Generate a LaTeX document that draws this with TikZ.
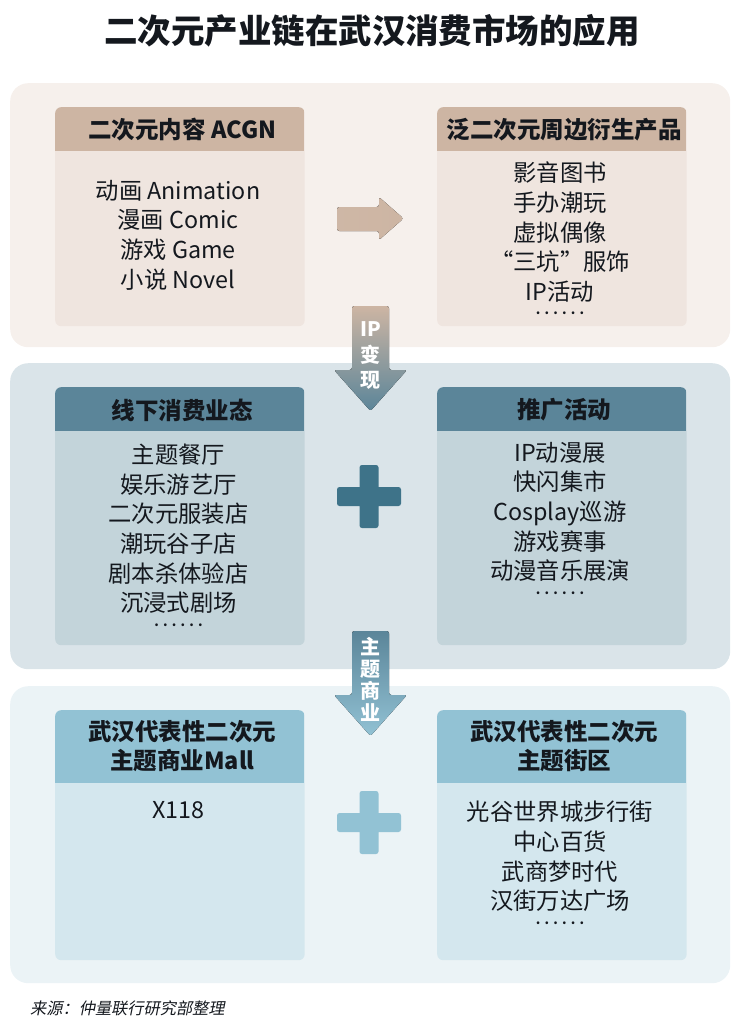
\documentclass[tikz,border=0pt]{standalone}
\usepackage{fontspec}
\usepackage{xcolor}
\setmainfont{Noto Sans CJK SC}
\newfontfamily\slantcjk[FakeSlant=0.2]{Noto Sans CJK SC}
\definecolor{sandpanel}{HTML}{F6F0EC}
\definecolor{sandcard}{HTML}{EFE5DF}
\definecolor{sandhead}{HTML}{CDB5A3}
\definecolor{slatepanel}{HTML}{DAE4E9}
\definecolor{slatecard}{HTML}{C3D4DA}
\definecolor{slatehead}{HTML}{5B8599}
\definecolor{slateplus}{HTML}{3E7389}
\definecolor{icepanel}{HTML}{EBF3F6}
\definecolor{icecard}{HTML}{D4E7EE}
\definecolor{icehead}{HTML}{92C2D4}
\definecolor{inkline}{HTML}{14181E}
\tikzset{
	headfill/.style 2 args={path picture={\fill[#1, sharp corners] (path picture bounding box.north west) rectangle ([yshift=-#2 pt]path picture bounding box.north east);}},
	panel/.style={rectangle, rounded corners=18pt, minimum width=720pt, anchor=north west, inner sep=0pt},
	card/.style={rectangle, rounded corners=6pt, minimum width=249.5pt, anchor=north west, inner sep=0pt},
	headtext/.style={font=\fontsize{23.5}{29}\selectfont\bfseries, text=inkline, align=center, inner sep=0pt},
	listtext/.style={font=\fontsize{23.3}{29.6}\selectfont, text=inkline, align=center, inner sep=0pt, anchor=north},
	arrowtext/.style={font=\fontsize{20}{25}\selectfont\bfseries, text=white, inner sep=0pt},
	plusmark/.pic={\fill[rounded corners=2.5pt] (-32,-9.5) rectangle (32,9.5) (-9.5,-31.5) rectangle (9.5,31.5);}
}
\newcommand{\dotrow}{\\[-15pt]{\fontsize{13}{13}\selectfont\bfseries\addfontfeature{LetterSpace=32}......}}
\begin{document}
\begin{tikzpicture}[x=1pt, y=-1pt]
	\useasboundingbox (0,0) rectangle (744,1026);
	\node[font=\fontsize{33.5}{33.5}\selectfont\bfseries, text=inkline, inner sep=0pt] (title) at (372,31) {二次元产业链在武汉消费市场的应用};

	\node[panel, fill=sandpanel, minimum height=264pt] (panelA) at (10,83) {};
	\node[panel, fill=slatepanel, minimum height=306pt] (panelB) at (10,363) {};
	\node[panel, fill=icepanel, minimum height=297pt] (panelC) at (10,686) {};

	\node[card, fill=sandcard, minimum height=219pt, headfill={sandhead}{44}] (acgn) at (55,107) {};
	\node[card, fill=sandcard, minimum height=219pt, headfill={sandhead}{44}] (goods) at (437,107) {};
	\node[card, fill=slatecard, minimum height=258pt, headfill={slatehead}{44}] (offline) at (55,387) {};
	\node[card, fill=slatecard, minimum height=258pt, headfill={slatehead}{44}] (promo) at (437,387) {};
	\node[card, fill=icecard, minimum height=250pt, headfill={icehead}{73}] (mall) at (55,710) {};
	\node[card, fill=icecard, minimum height=250pt, headfill={icehead}{73}] (street) at (437,710) {};

	\node[headtext] at ([xshift=2.5pt, yshift=-23pt]acgn.north) {二次元内容 ACGN};
	\node[headtext] at ([xshift=2.5pt, yshift=-23pt]goods.north) {泛二次元周边衍生产品};
	\node[headtext] at ([xshift=2.5pt, yshift=-23pt]offline.north) {线下消费业态};
	\node[headtext] at ([xshift=2.5pt, yshift=-23pt]promo.north) {推广活动};
	\node[headtext] at ([xshift=2.5pt, yshift=-36.5pt]mall.north) {武汉代表性二次元\\主题商业Mall};
	\node[headtext] at ([xshift=2.5pt, yshift=-36.5pt]street.north) {武汉代表性二次元\\主题街区};

	\node[listtext] (acgnlist) at (178,180) {动画 Animation\\漫画 Comic\\游戏 Game\\小说 Novel};
	\node[listtext] (goodslist) at (560,162) {影音图书\\手办潮玩\\虚拟偶像\\“三坑”服饰\\IP活动\dotrow};
	\node[listtext] (offlinelist) at (178.5,444) {主题餐厅\\娱乐游艺厅\\二次元服装店\\潮玩谷子店\\剧本杀体验店\\沉浸式剧场\dotrow};
	\node[listtext] (promolist) at (560,442) {IP动漫展\\快闪集市\\Cosplay巡游\\游戏赛事\\动漫音乐展演\dotrow};
	\node[listtext] (malllist) at (178.5,801) {X118};
	\node[listtext] (streetlist) at (560,801) {光谷世界城步行街\\中心百货\\武商梦时代\\汉街万达广场\dotrow};

	% arrows between the panels
	\fill[rounded corners=2.5pt, left color=sandhead!97!white, right color=sandhead] (337,207) -- (379,207) -- (379,197) -- (403.5,218.5) -- (379,240) -- (379,231) -- (337,231) -- cycle;
	\fill[rounded corners=2.5pt, top color=sandhead, bottom color=slatehead] (352,306) -- (389,306) -- (389,370) -- (407,370) -- (370.5,411) -- (334,370) -- (352,370) -- cycle;
	\fill[rounded corners=2.5pt, top color=slatehead, bottom color=icehead] (352,631) -- (389,631) -- (389,695) -- (407,695) -- (370.5,736) -- (334,695) -- (352,695) -- cycle;
	\node[arrowtext] (ip) at (370.5,329) {IP};
	\node[arrowtext] (bian) at (370.5,355) {变};
	\node[arrowtext] (xian) at (370.5,380) {现};
	\node[arrowtext] (zhu) at (370.5,647) {主};
	\node[arrowtext] (ti) at (370.5,669) {题};
	\node[arrowtext] (shang) at (370.5,691) {商};
	\node[arrowtext] (ye) at (370.5,713) {业};

	\pic[fill=slateplus] at (369,496.5) {plusmark};
	\pic[fill=icehead] at (369,822.5) {plusmark};

	\node[font=\fontsize{16.2}{16.2}\slantcjk, text=inkline, anchor=west, inner sep=0pt] (source) at (30,1008) {来源：仲量联行研究部整理};
\end{tikzpicture}
\end{document}
